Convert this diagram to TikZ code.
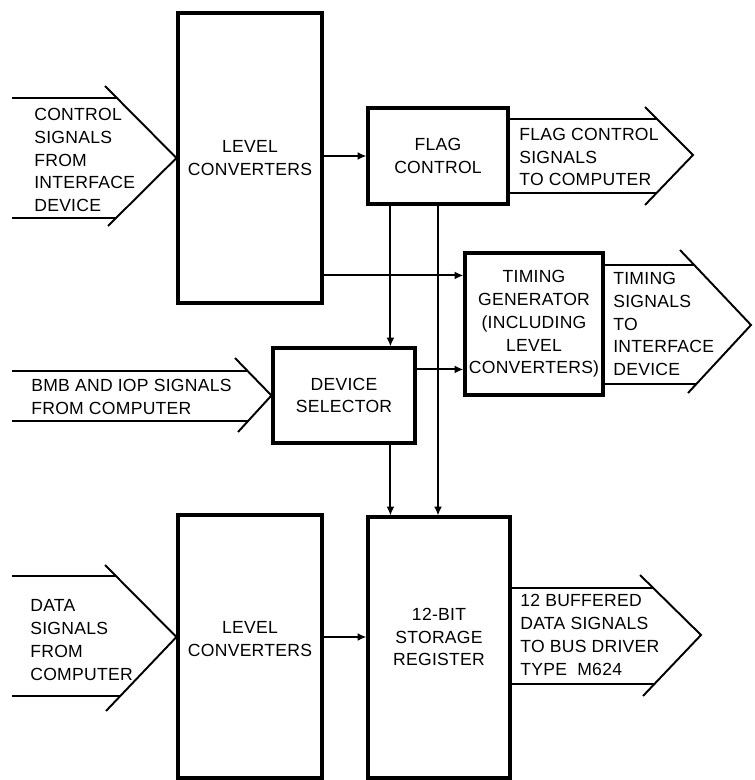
\documentclass[tikz,border=0pt]{standalone}
\usepackage{fontspec}
\setmainfont[LetterSpace=1.5]{Liberation Sans}
\usetikzlibrary{arrows.meta,calc}
\begin{document}
\begin{tikzpicture}[x=0.02cm, y=-0.02cm, >={Latex[length=5pt,width=4.5pt]},
  font=\fontsize{10}{13}\selectfont,
  blk/.style={draw, line width=1.8pt, inner sep=1pt, align=center},
  lbl/.style={align=center, inner sep=0pt},
  wire/.style={line width=1.1pt},
  txt/.style={align=left, anchor=west, inner sep=0pt}]
  \useasboundingbox (0,0) rectangle (754,780);

  % blocks
  \node[blk, minimum width=2.88cm, minimum height=5.8cm] (lc1) at (250,158) {LEVEL\\CONVERTERS};
  \node[blk, minimum width=2.8cm, minimum height=1.92cm] (flag) at (438,156) {FLAG\\CONTROL};
  \node[blk, minimum width=2.76cm, minimum height=2.84cm] (tg) at (534,324)
    {TIMING\\GENERATOR\\(INCLUDING\\LEVEL\\CONVERTERS)};
  \node[blk, minimum width=2.84cm, minimum height=1.9cm] (devsel) at (344,395.5) {DEVICE\\SELECTOR};
  \node[blk, minimum width=2.88cm, minimum height=5.26cm] (lc2) at (250,646.5) {};
  \node[lbl] (lc2txt) at (250,639) {LEVEL\\CONVERTERS};
  \node[blk, minimum width=2.84cm, minimum height=5.22cm] (reg) at (439,647.5) {};
  \node[lbl] (regtxt) at (439,637) {12-BIT\\STORAGE\\REGISTER};

  % signal arrows in
  \draw[wire] (12,98) -- (117,98);
  \draw[wire] (105,86) -- (lc1.west) -- (108,226);
  \draw[wire] (12,218) -- (116,218);
  \node[txt] (ctltxt) at (34,160) {CONTROL\\SIGNALS\\FROM\\INTERFACE\\DEVICE};

  \draw[wire] (12,371) -- (248,371);
  \draw[wire] (235,358) -- (devsel.west) -- (238,432);
  \draw[wire] (12,421) -- (248.5,421);
  \node[txt] (bmbtxt) at (31,397) {BMB AND IOP SIGNALS\\FROM COMPUTER};

  \coordinate (dtip) at (lc2.west |- 0,637);
  \draw[wire] (12,576) -- (116,576);
  \draw[wire] (105,565) -- (dtip) -- (106,711);
  \draw[wire] (12,696) -- (120,696);
  \node[txt] (dattxt) at (30,640) {DATA\\SIGNALS\\FROM\\COMPUTER};

  % signal arrows out
  \draw[wire] (flag.east |- 0,119) -- (657,119);
  \draw[wire] (645,107) -- (693,155) -- (645,205);
  \draw[wire] (flag.east |- 0,193) -- (656,193);
  \node[txt] (flgtxt) at (519,157) {FLAG CONTROL\\SIGNALS\\TO COMPUTER};

  \draw[wire] (tg.east |- 0,265) -- (695,265);
  \draw[wire] (680,250) -- (751,325) -- (688,393);
  \draw[wire] (tg.east |- 0,384) -- (697,384);
  \node[txt] (tmgtxt) at (613,324) {TIMING\\SIGNALS\\TO\\INTERFACE\\DEVICE};

  \draw[wire] (reg.east |- 0,588) -- (653,588);
  \draw[wire] (640,575) -- (701,635) -- (643,696);
  \draw[wire] (reg.east |- 0,684) -- (654,684);
  \node[txt] (bustxt) at (520,635) {12 BUFFERED\\DATA SIGNALS\\TO BUS DRIVER\\TYPE \ M624};

  % connections
  \draw[wire,->] (lc1.east |- flag.west) -- (flag.west);
  \coordinate (tgin1) at ($(tg.north west)+(0,24)$);
  \draw[wire,->] (lc1.east |- tgin1) -- (tgin1);
  \coordinate (tgin2) at ($(tg.north west)+(0,118)$);
  \draw[wire,->] (devsel.east |- tgin2) -- (tgin2);
  \coordinate (fdrop) at ($(flag.south west)+(24,0)$);
  \draw[wire,->] (fdrop) -- (fdrop |- devsel.north);
  \draw[wire,->] (flag.south) -- (flag.south |- reg.north);
  \draw[wire,->] (fdrop |- devsel.south) -- (fdrop |- reg.north);
  \coordinate (drow) at (0,637);
  \draw[wire,->] (lc2.east |- drow) -- (reg.west |- drow);
\end{tikzpicture}
\end{document}
